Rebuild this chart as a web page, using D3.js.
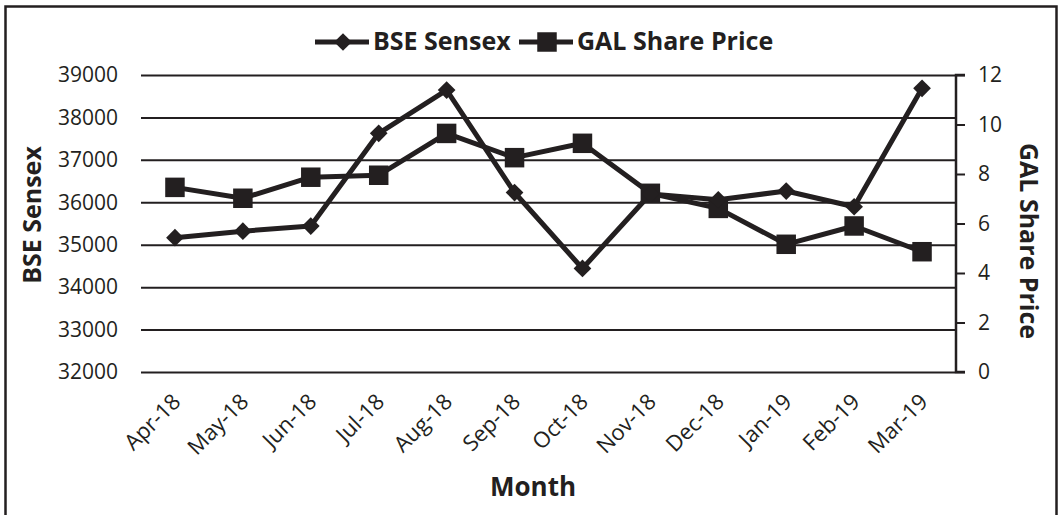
<!DOCTYPE html>
<html>
<head>
<meta charset="utf-8">
<script src="https://d3js.org/d3.v7.min.js"></script>
<style>
  body { margin: 0; background: #fff; }
  text { font-family: "Open Sans", "Noto Sans", sans-serif; fill: #231f20; }
</style>
</head>
<body>
<div id="chart"></div>
<script>
// Data
var months = ["Apr-18", "May-18", "Jun-18", "Jul-18", "Aug-18", "Sep-18",
              "Oct-18", "Nov-18", "Dec-18", "Jan-19", "Feb-19", "Mar-19"];
var sensex = [35165, 35320, 35440, 37625, 38645, 36230,
              34440, 36195, 36060, 36265, 35895, 38685];
var galPrice = [7.46, 7.02, 7.87, 7.95, 9.64, 8.66,
                9.24, 7.22, 6.61, 5.16, 5.90, 4.86];
var leftTicks = [32000, 33000, 34000, 35000, 36000, 37000, 38000, 39000];
var rightTicks = [0, 2, 4, 6, 8, 10, 12];

// SVG canvas
var svgWidth = 1060;
var svgHeight = 515;
var ink = "#231f20";

// plot area
var plot = { left: 141, right: 956, top: 75, bottom: 372 };

var svg = d3.select("#chart").append("svg")
    .attr("width", svgWidth)
    .attr("height", svgHeight);

// outer frame
svg.append("rect")
    .attr("x", 5.5)
    .attr("y", 6.5)
    .attr("width", 1051)
    .attr("height", 530)
    .attr("fill", "none")
    .attr("stroke", ink)
    .attr("stroke-width", 2.5);

// scales
var xScale = d3.scaleBand()
    .domain(months)
    .range([plot.left, plot.right]);

var yLeft = d3.scaleLinear()
    .domain([32000, 39000])
    .range([plot.bottom, plot.top]);

var yRight = d3.scaleLinear()
    .domain([0, 12])
    .range([plot.bottom, plot.top]);

// gridlines (left axis) - these also act as the ticks
var leftAxis = d3.axisLeft(yLeft)
    .tickValues(leftTicks)
    .tickSize(-(plot.right - plot.left))
    .tickPadding(23)
    .tickFormat(d3.format("d"));

var gLeft = svg.append("g")
    .attr("transform", `translate(${plot.left},0)`)
    .call(leftAxis);
gLeft.select(".domain").remove();
gLeft.selectAll(".tick line")
    .attr("stroke", ink)
    .attr("stroke-width", 2);
gLeft.selectAll(".tick text")
    .style("font-size", "21px")
    .attr("fill", ink);

// right axis
var rightAxis = d3.axisRight(yRight)
    .tickValues(rightTicks)
    .tickSize(9)
    .tickPadding(13);

var gRight = svg.append("g")
    .attr("transform", `translate(${plot.right},0)`)
    .call(rightAxis);
gRight.select(".domain")
    .attr("stroke", ink)
    .attr("stroke-width", 2.5)
    .attr("d", `M9,${plot.top}H0V${plot.bottom}H9`);
gRight.selectAll(".tick line")
    .attr("stroke", ink)
    .attr("stroke-width", 2);
gRight.selectAll(".tick text")
    .style("font-size", "21px")
    .attr("fill", ink);

// x axis labels (rotated)
var bottomAxis = d3.axisBottom(xScale)
    .tickSize(0)
    .tickPadding(0);

var gBottom = svg.append("g")
    .attr("transform", `translate(0,${plot.bottom})`)
    .call(bottomAxis);
gBottom.select(".domain").remove();
gBottom.selectAll(".tick text")
    .style("font-size", "22px")
    .style("text-anchor", "end")
    .attr("fill", ink)
    .attr("dy", null)
    .attr("y", 0)
    .attr("transform", "translate(7,31) rotate(-45)");

// lines
var sensexLine = d3.line()
    .x((d, i) => xScale(months[i]) + xScale.bandwidth() / 2)
    .y(d => yLeft(d));

var galLine = d3.line()
    .x((d, i) => xScale(months[i]) + xScale.bandwidth() / 2)
    .y(d => yRight(d));

svg.append("path")
    .datum(galPrice)
    .attr("d", galLine)
    .attr("fill", "none")
    .attr("stroke", ink)
    .attr("stroke-width", 5)
    .attr("stroke-linejoin", "round");

svg.append("path")
    .datum(sensex)
    .attr("d", sensexLine)
    .attr("fill", "none")
    .attr("stroke", ink)
    .attr("stroke-width", 5)
    .attr("stroke-linejoin", "round");

// markers
var diamond = d3.symbol().type(d3.symbolDiamond2).size(200);
var square = d3.symbol().type(d3.symbolSquare).size(380);

svg.selectAll(".sq")
    .data(galPrice)
    .enter()
    .append("path")
    .attr("class", "sq")
    .attr("d", square)
    .attr("transform", (d, i) => `translate(${xScale(months[i]) + xScale.bandwidth() / 2},${yRight(d)})`)
    .attr("fill", ink);

svg.selectAll(".dm")
    .data(sensex)
    .enter()
    .append("path")
    .attr("class", "dm")
    .attr("d", diamond)
    .attr("transform", (d, i) => `translate(${xScale(months[i]) + xScale.bandwidth() / 2},${yLeft(d)})`)
    .attr("fill", ink);

// axis titles
svg.append("text")
    .attr("transform", "translate(41,215) rotate(-90)")
    .style("text-anchor", "middle")
    .style("font-size", "25px")
    .style("font-weight", "bold")
    .text("BSE Sensex");

svg.append("text")
    .attr("transform", "translate(1020,241) rotate(90)")
    .style("text-anchor", "middle")
    .style("font-size", "25px")
    .style("font-weight", "bold")
    .text("GAL Share Price");

svg.append("text")
    .attr("x", 533)
    .attr("y", 496)
    .style("text-anchor", "middle")
    .style("font-size", "26px")
    .style("font-weight", "bold")
    .text("Month");

// legend
var legendItems = [
    { name: "BSE Sensex", marker: diamond, x: 315 },
    { name: "GAL Share Price", marker: square, x: 519 }
];
var legendY = 42;

legendItems.forEach(function (item) {
    var g = svg.append("g");
    g.append("line")
        .attr("x1", item.x)
        .attr("x2", item.x + 54)
        .attr("y1", legendY)
        .attr("y2", legendY)
        .attr("stroke", ink)
        .attr("stroke-width", 5);
    g.append("path")
        .attr("d", item.marker)
        .attr("transform", `translate(${item.x + 28},${legendY})`)
        .attr("fill", ink);
    g.append("text")
        .attr("x", item.x + 58)
        .attr("y", legendY + 8)
        .style("font-size", "25px")
        .style("font-weight", "bold")
        .text(item.name);
});
</script>
</body>
</html>
